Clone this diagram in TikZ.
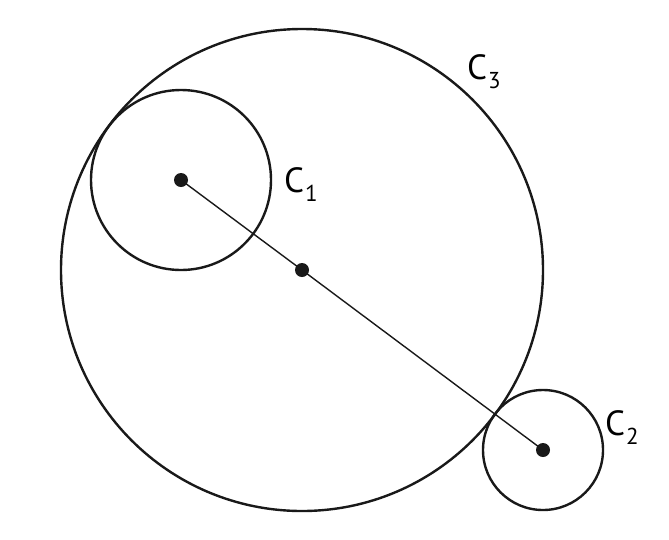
\documentclass[tikz,border=0pt]{standalone}
\usepackage{fontspec}
\setmainfont{PT Sans}
\newcommand{\clabel}[1]{\fontsize{35}{40}\selectfont C\kern1pt\raisebox{-9pt}{\fontsize{23}{23}\selectfont #1}}
\begin{document}
\begin{tikzpicture}[x=1pt,y=-1pt,
  circ/.style={draw=black!90,line width=2.4pt},
  seg/.style={draw=black!90,line width=1.4pt},
  dot/.style={circle,fill=black!90,inner sep=0pt,minimum size=14pt},
  lab/.style={anchor=base west,inner sep=0pt}]
\useasboundingbox (0,0) rectangle (669,539);
\draw[circ] (302,270) circle (241);
\draw[circ] (181,180) circle (90);
\draw[circ] (543,450) circle (60);
\node[dot] (o1) at (181,180) {};
\node[dot] (o3) at (302,270) {};
\node[dot] (o2) at (543,450) {};
\draw[seg] (o1.center) -- (o3.center) -- (o2.center);
\node[lab] (l3) at (467,79) {\clabel{3}};
\node[lab] (l1) at (284,192) {\clabel{1}};
\node[lab] (l2) at (605,435) {\clabel{2}};
\end{tikzpicture}
\end{document}
